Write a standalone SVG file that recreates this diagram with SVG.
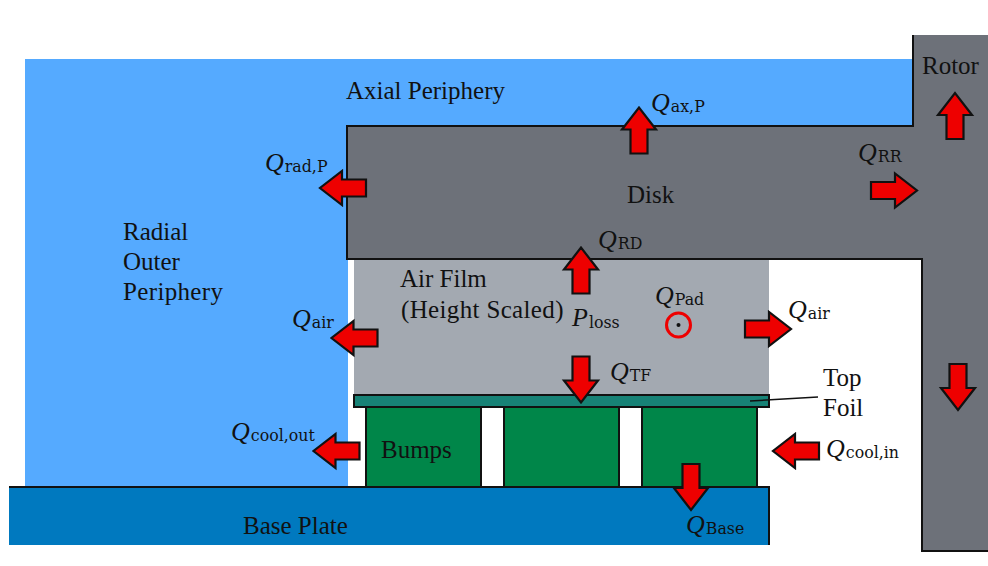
<svg xmlns="http://www.w3.org/2000/svg" width="988" height="566" viewBox="0 0 988 566">
<style>
text{font-family:"Liberation Serif","DejaVu Serif",serif;font-size:25px;fill:#111}
.m{font-size:26px;font-style:italic}
.s{font-family:"DejaVu Serif","Liberation Serif",serif;font-size:15.8px;font-style:normal}
.w{letter-spacing:.35px}
.o{stroke:#111;stroke-width:2}
</style>
<defs>
<path id="arrow" d="M-23,-8.5H1V-17L23,0L1,17V8.5H-23Z" fill="#ee0000" stroke="#111" stroke-width="2.2"/>
</defs>
<rect width="988" height="566" fill="#fff"/>
<g id="periphery">
<path d="M25,59H913V126H347V259H348V487H25Z" fill="#55aaff"/>
<text x="346" y="99">Axial Periphery</text>
<text x="123" y="240">Radial</text>
<text x="123" y="270">Outer</text>
<text class="w" x="123" y="300">Periphery</text>
</g>
<g id="disk-rotor">
<path d="M347,126H913V35H988V551H922V259H347Z" fill="#6d7179"/>
<path d="M913,35V126H347V259H922V551H988" fill="none" class="o"/>
<text x="627" y="203">Disk</text>
<text x="922" y="74">Rotor</text>
</g>
<g id="air-film">
<rect x="354" y="260" width="415" height="135" fill="#a3a9b1"/>
<text x="400" y="287">Air Film</text>
<text class="w" x="401" y="318">(Height Scaled)</text>
<circle cx="678.5" cy="325" r="12" fill="none" stroke="#ee0000" stroke-width="3"/>
<circle cx="678.5" cy="325" r="2" fill="#111"/>
</g>
<g id="top-foil">
<rect x="354" y="395" width="415" height="12" fill="#178276" class="o"/>
<text x="823" y="385.5">Top</text>
<text x="823" y="416">Foil</text>
</g>
<g id="bumps">
<rect x="366" y="407" width="115" height="80" fill="#008649" class="o"/>
<rect x="504" y="407" width="115" height="80" fill="#008649" class="o"/>
<rect x="642" y="407" width="115" height="80" fill="#008649" class="o"/>
<text x="381" y="458">Bumps</text>
</g>
<g id="base-plate">
<path d="M9,487H769V545H9Z" fill="#0079bf"/>
<path d="M9,487H769V545" fill="none" class="o"/>
<text x="243" y="534">Base Plate</text>
</g>
<g id="connectors">
<path d="M750,401L818,397" stroke="#111" stroke-width="1.6" fill="none"/>
<use href="#arrow" transform="translate(639,130.5) rotate(-90)"/>
<use href="#arrow" transform="translate(955,116) rotate(-90)"/>
<use href="#arrow" transform="translate(894,190.5)"/>
<use href="#arrow" transform="translate(343,188) rotate(180)"/>
<use href="#arrow" transform="translate(581,270.5) rotate(-90)"/>
<use href="#arrow" transform="translate(354.5,338) rotate(180)"/>
<use href="#arrow" transform="translate(768,329)"/>
<use href="#arrow" transform="translate(581,379.5) rotate(90)"/>
<use href="#arrow" transform="translate(958,387) rotate(90)"/>
<use href="#arrow" transform="translate(336.5,451) rotate(180)"/>
<use href="#arrow" transform="translate(796,451) rotate(180)"/>
<use href="#arrow" transform="translate(691,487) rotate(90)"/>
</g>
<g id="labels">
<text class="m" x="651" y="111">Q<tspan class="s" dx="1" dy="1">ax,P</tspan></text>
<text class="m" x="858" y="161">Q<tspan class="s" dx="1" dy="1">RR</tspan></text>
<text class="m" x="265" y="171">Q<tspan class="s" dx="1" dy="1">rad,P</tspan></text>
<text class="m" x="598" y="248">Q<tspan class="s" dx="1" dy="1">RD</tspan></text>
<text class="m" x="655" y="304">Q<tspan class="s" dx="1" dy="1">Pad</tspan></text>
<text class="m" x="572" y="326">P<tspan class="s" dx="1" dy="2">loss</tspan></text>
<text class="m" x="292" y="327">Q<tspan class="s" dx="1" dy="1">air</tspan></text>
<text class="m" x="788" y="318">Q<tspan class="s" dx="1" dy="1">air</tspan></text>
<text class="m" x="610" y="380">Q<tspan class="s" dx="1" dy="1">TF</tspan></text>
<text class="m" x="231" y="440">Q<tspan class="s" dx="1" dy="1">cool,out</tspan></text>
<text class="m" x="826" y="457">Q<tspan class="s" dx="1" dy="1">cool,in</tspan></text>
<text class="m" x="686" y="533">Q<tspan class="s" dx="1" dy="1">Base</tspan></text>
</g>
</svg>
